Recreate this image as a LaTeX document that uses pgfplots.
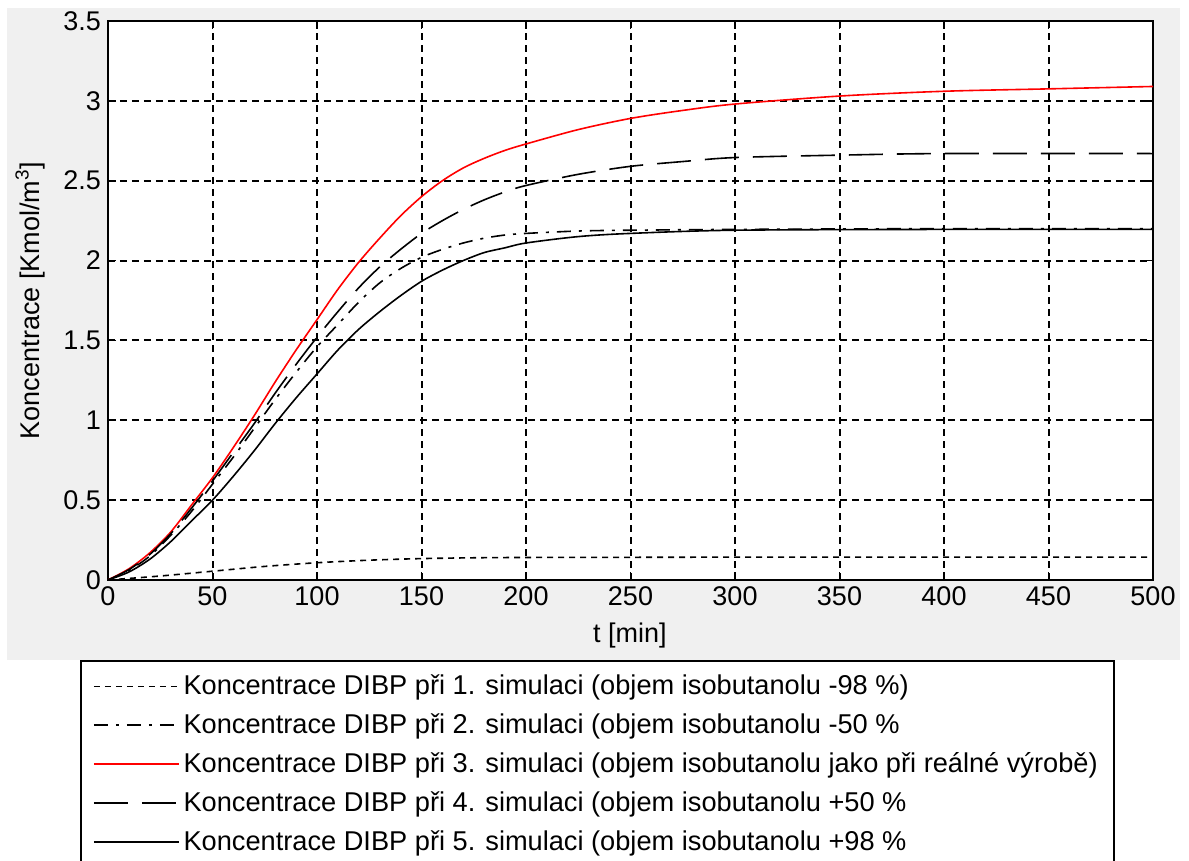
\documentclass[border=0pt]{standalone}
\usepackage{pgfplots}
\pgfplotsset{compat=1.18}
\usepackage{fontspec}
\setmainfont{Liberation Sans}
\definecolor{figgray}{HTML}{F0F0F0}

\begin{document}
\begin{tikzpicture}
\clip (0,0) rectangle (594.5pt,430.5pt);
\fill[white] (0,0) rectangle (594.5pt,430.5pt);
\fill[figgray] (3.5pt,100.5pt) rectangle (590pt,426.5pt);
\begin{axis}[
    at={(54pt,140.5pt)}, anchor=south west,
    scale only axis,
    width=522.5pt, height=279.5pt,
    xmin=0, xmax=500, ymin=0, ymax=3.5,
    xtick={0,50,...,500},
    ytick={0,0.5,...,3.5},
    axis background/.style={fill=white},
    axis line style={line width=1.1pt},
    tick align=inside,
    major tick length=4pt,
    tick style={black, line width=0.9pt},
    grid=major,
    major grid style={black, line width=1pt, dash pattern=on 3.5pt off 2.5pt},
    ticklabel style={font=\fontsize{13.5}{15}\selectfont},
    /pgf/number format/assume math mode=true,
    yticklabel style={/pgf/number format/fixed, /pgf/number format/precision=1},
    scaled ticks=false,
    xlabel={t [min]},
    ylabel={Koncentrace [Kmol/m\textsuperscript{3}]},
    label style={font=\fontsize{13.5}{15}\selectfont},
    xlabel style={at={(axis description cs:0.4995,-0.1002)}, anchor=center},
    ylabel style={at={(axis description cs:-0.0746,0.5)}, anchor=center},
    legend style={
        at={(axis description cs:-0.0268,-0.1431)}, anchor=north west,
        draw=black, line width=1pt, fill=white,
        font=\fontsize{13.6}{15}\selectfont,
        row sep=4pt, inner xsep=6pt, inner ysep=5pt,
        nodes={line width=0.8pt},
    },
    legend cell align=left,
    legend image code/.code={\draw[#1] (0pt,0pt) -- (42.5pt,0pt);},
]
% 1. simulace
\addplot[black, line width=0.8pt, dash pattern=on 3pt off 2.5pt, smooth] coordinates {
(0,0) (25,0.025) (50,0.055) (75,0.085) (100,0.108) (125,0.124) (150,0.134)
(175,0.139) (200,0.141) (250,0.142) (300,0.143) (400,0.143) (500,0.143)};
\addlegendentry{Koncentrace DIBP při 1. simulaci (objem isobutanolu -98 \%)}
% 2. simulace
\addplot[black, line width=0.8pt, dash pattern=on 7pt off 4pt on 1.5pt off 4pt, smooth] coordinates {
(0,0) (10,0.06) (20,0.15) (30,0.28) (40,0.43) (50,0.6) (60,0.77) (70,0.95)
(80,1.13) (90,1.3) (100,1.46) (110,1.6) (120,1.74) (130,1.86) (140,1.95)
(150,2.02) (160,2.07) (170,2.11) (180,2.14) (190,2.16) (200,2.17) (225,2.185)
(250,2.19) (300,2.195) (400,2.2) (500,2.2)};
\addlegendentry{Koncentrace DIBP při 2. simulaci (objem isobutanolu -50 \%}
% 3. simulace
\addplot[red, line width=0.8pt, smooth] coordinates {
(0,0) (10,0.07) (20,0.17) (30,0.3) (40,0.47) (50,0.64) (60,0.83) (70,1.03)
(80,1.24) (90,1.44) (100,1.63) (110,1.82) (120,1.99) (130,2.14) (140,2.28)
(150,2.40) (160,2.5) (170,2.58) (180,2.64) (190,2.69) (200,2.73) (225,2.82)
(250,2.89) (275,2.94) (300,2.98) (350,3.03) (400,3.06) (450,3.075) (500,3.09)};
\addlegendentry{Koncentrace DIBP při 3. simulaci (objem isobutanolu jako při reálné výrobě)}
% 4. simulace
\addplot[black, line width=0.8pt, dash pattern=on 17pt off 7pt, smooth] coordinates {
(0,0) (10,0.065) (20,0.16) (30,0.29) (40,0.45) (50,0.62) (60,0.8) (70,0.98)
(80,1.17) (90,1.35) (100,1.52) (110,1.68) (120,1.83) (130,1.96) (140,2.07)
(150,2.17) (160,2.25) (170,2.32) (180,2.38) (190,2.43) (200,2.47) (225,2.54)
(250,2.59) (275,2.62) (300,2.645) (350,2.66) (400,2.67) (500,2.67)};
\addlegendentry{Koncentrace DIBP při 4. simulaci (objem isobutanolu +50 \%}
% 5. simulace
\addplot[black, line width=0.8pt, smooth] coordinates {
(0,0) (10,0.05) (20,0.13) (30,0.24) (40,0.37) (50,0.5) (60,0.65) (70,0.81)
(80,0.98) (90,1.14) (100,1.29) (110,1.44) (120,1.57) (130,1.68) (140,1.78)
(150,1.87) (160,1.94) (170,2.0) (180,2.05) (190,2.08) (200,2.11) (225,2.15)
(250,2.17) (300,2.19) (400,2.195) (500,2.195)};
\addlegendentry{Koncentrace DIBP při 5. simulaci (objem isobutanolu +98 \%}
\end{axis}
\end{tikzpicture}
\end{document}
